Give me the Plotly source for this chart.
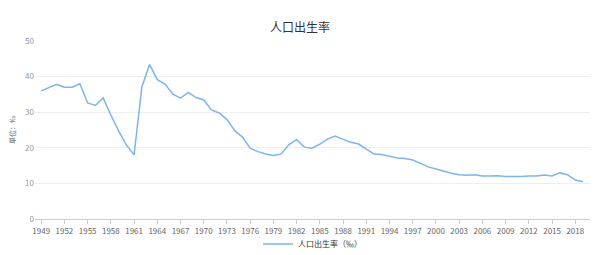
import plotly.graph_objects as go

years = list(range(1949, 2020))
birth_rate = [36.0, 37.0, 37.8, 37.0, 37.0, 37.97, 32.6, 31.9, 34.03, 29.22,
              24.78, 20.86, 18.02, 37.01, 43.37, 39.14, 37.88, 35.05, 33.96, 35.59,
              34.11, 33.43, 30.65, 29.77, 27.93, 24.82, 23.01, 19.91, 18.93, 18.25,
              17.82, 18.21, 20.91, 22.28, 20.19, 19.90, 21.04, 22.43, 23.33, 22.37,
              21.58, 21.06, 19.68, 18.24, 18.09, 17.70, 17.12, 16.98, 16.57, 15.64,
              14.64, 14.03, 13.38, 12.86, 12.41, 12.29, 12.40, 12.09, 12.10, 12.14,
              11.95, 11.90, 11.93, 12.10, 12.08, 12.37, 12.07, 12.95, 12.43, 10.94,
              10.48]
tick_years = list(range(1949, 2020, 3))
y_ticks = [0, 10, 20, 30, 40, 50]

FONT = "Noto Sans CJK SC"

fig = go.Figure()
fig.add_trace(go.Scatter(
    x=years, y=birth_rate, mode="lines",
    name="人口出生率（‰）",
    line=dict(color="#7cb5ec", width=1.5),
))

fig.update_layout(
    width=600, height=255,
    margin=dict(l=35, r=10, t=41, b=36, autoexpand=False),
    paper_bgcolor="white", plot_bgcolor="white",
    font=dict(family=FONT, size=8, color="#666666"),
    title=dict(text="人口出生率", x=0.5, xanchor="center", y=1 - 28 / 255, yanchor="middle",
               font=dict(family=FONT, size=12, color="#333333")),
    showlegend=True,
    legend=dict(orientation="h", x=0.5, xanchor="center", yref="container",
                y=11 / 255, yanchor="middle", bgcolor="rgba(0,0,0,0)",
                font=dict(family=FONT, size=8, color="#333333")),
    xaxis=dict(
        range=[1948.2, 2019.9], tickmode="array", tickvals=tick_years,
        ticktext=[str(y) for y in tick_years],
        showgrid=False, showline=True, linecolor="#cccccc", linewidth=1,
        ticks="outside", ticklen=4, tickcolor="#cccccc",
        tickfont=dict(size=8, color="#666666"), zeroline=False,
    ),
    yaxis=dict(
        range=[0, 50], tickvals=y_ticks, showgrid=True, gridcolor="#eeeeee",
        zeroline=False, showline=False, ticks="", ticklen=0,
        tickfont=dict(size=8, color="#999999"),
        title=dict(text="单位：‰", font=dict(size=7, color="#666666"), standoff=8),
    ),
)

fig.write_html("out.html")
